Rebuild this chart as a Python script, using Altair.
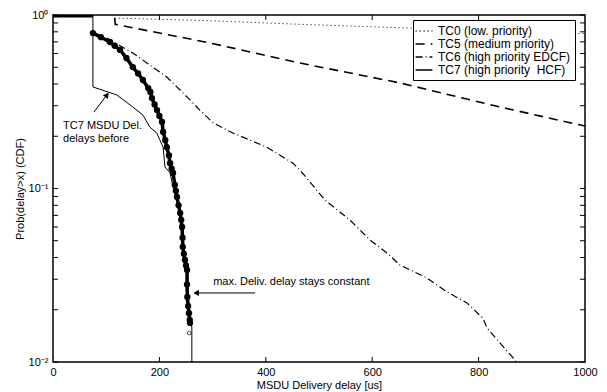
import altair as alt
import pandas as pd

# ---------------- data ----------------
series_names = ["TC0 (low. priority)", "TC5 (medium priority)",
                "TC6 (high priority EDCF)", "TC7 (high priority\u00a0 HCF)"]

tc0_x = [116, 295, 464, 671, 1000]
tc0_y = [0.961, 0.927, 0.884, 0.841, 0.78]

tc5_x = [116, 117, 295, 464, 652, 840, 1000]
tc5_y = [0.961, 0.884, 0.69, 0.529, 0.406, 0.295, 0.229]

tc6_x = [101, 150, 214, 252, 276, 301, 338, 402, 451, 464, 511, 558, 596,
         628, 652, 703, 741, 778, 808, 816, 840, 868, 880]
tc6_y = [0.737, 0.604, 0.439, 0.337, 0.283, 0.239, 0.209, 0.173, 0.140,
         0.128, 0.0859, 0.0658, 0.0505, 0.0425, 0.0362, 0.0305, 0.0253,
         0.0219, 0.0179, 0.0157, 0.0129, 0.0103, 0.009]

# TC7 (HCF) : flat part at 1, then the marked curve
tc7_top_x = [0, 75]
tc7_top_y = [1.0, 1.0]
tc7_x = [75, 90, 107, 116, 126, 138, 150, 160, 169, 179, 183, 186, 191, 195.5,
         200, 205, 207, 211, 214, 218, 220, 223, 225.6, 229, 231, 233, 236,
         239, 241, 242.5, 243.5, 244, 246, 248, 250, 252, 252, 252.5, 254,
         255.6, 257, 257.5]
tc7_y = [0.787, 0.745, 0.699, 0.665, 0.629, 0.565, 0.501, 0.460, 0.422,
         0.379, 0.36, 0.332, 0.305, 0.283, 0.262, 0.242, 0.212, 0.19, 0.173,
         0.155, 0.140, 0.13, 0.123, 0.105, 0.097, 0.0893, 0.08, 0.0722,
         0.066, 0.060, 0.052, 0.046, 0.042, 0.0387, 0.036, 0.0339, 0.028,
         0.0237, 0.021, 0.0191, 0.0175, 0.0168]
tc7_end_x = [256]
tc7_end_y = [0.0147]

# TC7 delays before (thin line)
before_x = [0, 75, 75, 120, 150, 169, 182, 195, 207, 210.5, 220, 225.6, 233,
            238, 242, 245, 249, 253, 254, 257, 259, 261, 261]
before_y = [1.0, 1.0, 0.385, 0.346, 0.295, 0.265, 0.226, 0.209, 0.173, 0.133,
            0.123, 0.102, 0.086, 0.072, 0.061, 0.047, 0.039, 0.034, 0.024,
            0.019, 0.0165, 0.0159, 0.005]

x_ticks = [0, 200, 400, 600, 800, 1000]
y_ticks = [m * 10.0 ** e for e in (-2, -1) for m in range(1, 10)] + [1.0]

ann1_lines = ["TC7 MSDU Del.", "delays before"]
ann1_x = [19, 19]
ann1_y = [0.229, 0.193]
arrow1_x = [77, 101.5]
arrow1_y = [0.276, 0.346]
ann2_text = ["max. Deliv. delay stays constant"]
ann2_x = [301]
ann2_y = [0.0289]
arrow2_x = [380, 269]
arrow2_y = [0.025, 0.025]

# ---------------- tables ----------------
def table(xs, ys, name):
    return pd.DataFrame({"x": xs, "y": ys, "series": name, "i": range(len(xs))})

tc0_df = table(tc0_x, tc0_y, series_names[0])
tc5_df = table(tc5_x, tc5_y, series_names[1])
tc6_df = table(tc6_x, tc6_y, series_names[2])
tc7_top_df = table(tc7_top_x, tc7_top_y, series_names[3])
tc7_df = table(tc7_x, tc7_y, series_names[3])
end_df = pd.DataFrame({"x": tc7_end_x, "y": tc7_end_y})
before_df = pd.DataFrame({"x": before_x, "y": before_y, "i": range(len(before_x))})

W, H = 532, 347
FONT = "Liberation Sans"

xs = alt.Scale(domain=[0, 1000], nice=False)
ys = alt.Scale(type="log", domain=[0.01, 1], nice=False)

X = alt.X("x:Q", scale=xs,
          axis=alt.Axis(values=x_ticks, title="MSDU Delivery delay [us]", format="d",
                        ticks=False, domain=False, grid=False, labelPadding=4,
                        labelFlush=False, titlePadding=2))
Y = alt.Y("y:Q", scale=ys,
          axis=alt.Axis(values=[0.01, 0.1, 1], title="Prob(delay>x) (CDF)",
                        ticks=False, domain=False, grid=False, labelPadding=5,
                        labelFlush=False, titlePadding=3,
                        labelExpr="datum.value >= 0.99 ? '10⁰' : (datum.value >= 0.099 ? '10⁻¹' : '10⁻²')"))

dash_scale = alt.Scale(domain=series_names,
                       range=[[1, 3], [9, 6], [7, 3, 1, 3], [1, 0]])
legend = alt.Legend(title=None, orient="none", legendX=360, legendY=5)


def series_layer(df, width):
    return alt.Chart(df).mark_line(color="black", strokeWidth=width, clip=True).encode(
        x=X, y=Y,
        strokeDash=alt.StrokeDash("series:N", scale=dash_scale, legend=legend),
        order="i:Q")


l0 = series_layer(tc0_df, 1)
l5 = series_layer(tc5_df, 1.6)
l6 = series_layer(tc6_df, 1.2)
l7top = series_layer(tc7_top_df, 5)
l7 = series_layer(tc7_df, 3.5)

before = alt.Chart(before_df).mark_line(color="black", strokeWidth=1, clip=True).encode(
    x="x:Q", y="y:Q", order="i:Q")

markers = alt.Chart(tc7_df).mark_circle(color="black", size=40, opacity=1).encode(
    x="x:Q", y="y:Q")
end_marker = alt.Chart(end_df).mark_point(color="black", size=14, filled=False,
                                          strokeWidth=1).encode(x="x:Q", y="y:Q")

ann1 = alt.Chart(pd.DataFrame({"x": ann1_x, "y": ann1_y, "t": ann1_lines})).mark_text(
    align="left", baseline="middle", font=FONT, fontSize=11, color="black").encode(
    x="x:Q", y="y:Q", text="t:N")
arr1_df = pd.DataFrame({"x": arrow1_x, "y": arrow1_y, "i": [0, 1]})
arr1 = alt.Chart(arr1_df).mark_line(color="black", strokeWidth=1).encode(
    x="x:Q", y="y:Q", order="i:Q")
head1 = alt.Chart(arr1_df.iloc[[1]]).mark_point(shape="triangle-up", filled=True,
                                                 color="black", size=40, angle=37,
                                                 opacity=1).encode(x="x:Q", y="y:Q")

ann2 = alt.Chart(pd.DataFrame({"x": ann2_x, "y": ann2_y, "t": ann2_text})).mark_text(
    align="left", baseline="middle", font=FONT, fontSize=11, color="black").encode(
    x="x:Q", y="y:Q", text="t:N")
arr2_df = pd.DataFrame({"x": arrow2_x, "y": arrow2_y, "i": [0, 1]})
arr2 = alt.Chart(arr2_df).mark_line(color="black", strokeWidth=1).encode(
    x="x:Q", y="y:Q", order="i:Q")
head2 = alt.Chart(arr2_df.iloc[[1]]).mark_point(shape="triangle-up", filled=True,
                                                 color="black", size=40, angle=270,
                                                 opacity=1).encode(x="x:Q", y="y:Q")

# inward ticks on all four sides
yt_df = pd.DataFrame({"y": y_ticks})
xt_df = pd.DataFrame({"x": x_ticks[1:-1]})
tick_l = alt.Chart(yt_df).mark_rule(color="black", strokeWidth=1).encode(
    y="y:Q", x=alt.value(0), x2=alt.value(5))
tick_r = alt.Chart(yt_df).mark_rule(color="black", strokeWidth=1).encode(
    y="y:Q", x=alt.value(W - 5), x2=alt.value(W))
tick_b = alt.Chart(xt_df).mark_rule(color="black", strokeWidth=1).encode(
    x="x:Q", y=alt.value(H - 5), y2=alt.value(H))
tick_t = alt.Chart(xt_df).mark_rule(color="black", strokeWidth=1).encode(
    x="x:Q", y=alt.value(0), y2=alt.value(5))

chart = alt.layer(
    tick_l, tick_r, tick_b, tick_t,
    l0, l5, l6, before, l7top, l7, markers, end_marker,
    ann1, arr1, head1, ann2, arr2, head2,
).properties(
    width=W, height=H,
    autosize=alt.AutoSizeParams(type="none"),
    padding={"left": 53, "top": 15, "right": 22, "bottom": 30},
).configure_view(
    stroke="black", strokeWidth=1.5
).configure_axis(
    labelFont=FONT, labelFontSize=11, labelColor="black",
    titleFont=FONT, titleFontSize=11, titleColor="black", titleFontWeight="normal",
).configure_legend(
    labelFont=FONT, labelFontSize=12, labelColor="black",
    symbolType="M-1.4,0H1.4", symbolStrokeColor="black", symbolSize=144,
    symbolStrokeWidth=1.3, fillColor="white", strokeColor="black",
    padding=4, rowPadding=-1, labelOffset=7, labelLimit=300,
)

chart.save("out.html", embed_options={"renderer": "svg", "actions": False})
